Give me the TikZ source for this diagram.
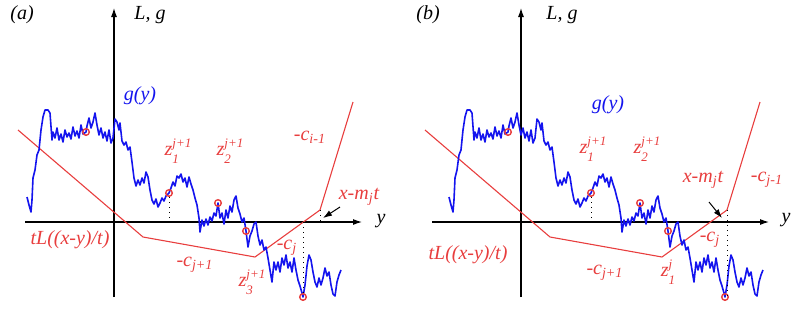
\documentclass[tikz,border=0pt]{standalone}
\usepackage{fontspec}
\setmainfont{Liberation Serif}
\usetikzlibrary{arrows.meta,positioning,calc}
\definecolor{lred}{RGB}{232,62,62}
\definecolor{wblue}{RGB}{20,20,238}
\newcommand\zsup[3]{#1{\fontsize{6.5}{8.2}\selectfont\begin{tabular}{@{}l@{}}#2\\#3\end{tabular}}}

\begin{document}
\begin{tikzpicture}[x=0.5pt,y=-0.5pt,>={Latex[length=4.5pt,width=3pt]},
 ax/.style={draw=black,line width=0.55pt,->},
 lim/.style={draw=lred,line width=0.55pt,line join=round},
 walk/.style={draw=wblue,line width=0.8pt,line join=round},
 dot/.style={circle,draw=lred,line width=0.7pt,inner sep=0pt,minimum size=3.3pt},
 drop/.style={draw=black,line width=0.5pt,dotted},
 tag/.style={font=\itshape\fontsize{10}{12}\selectfont,inner sep=0pt},
 lbl/.style={tag,text=lred}]
 \useasboundingbox (0,0) rectangle (810,313);
 % common parts of both panels
 \foreach \p/\dx/\dw in {a/0/0,b/407/15}{
 \begin{scope}[shift={(\dx,0)}]
  \coordinate (O\p) at (114,222);
  \draw[ax] (114,297) -- (114,8);
  \draw[ax] (25,222) -- (362,222);
  \coordinate (k0\p) at (18,130); \coordinate (k1\p) at (143,237); \coordinate (k2\p) at (255,257);
  \coordinate (k3\p) at (320,210); \coordinate (k4\p) at (353,102);
  \draw[lim] (k0\p) -- (k1\p) -- (k2\p) -- (k3\p) -- (k4\p);
  \begin{scope}[shift={(\dw,0)}]
   \draw[walk] plot coordinates {(27,197) (29,205) (31,212) (32,200) (33,178) (35,170) (37,155) (39,150) (41,130) (43,117) (45,110) (48,110) (50,113) (52,140) (53,132) (55,138) (57,128) (59,140) (61,134) (63,142) (65,130) (67,137) (69,133) (71,139) (73,127) (75,136) (77,131) (79,138) (81,125) (83,134) (86,132) (87,126) (89,118) (91,128) (93,122) (95,113) (97,125) (99,135) (101,128) (103,138) (105,132) (107,141) (109,130) (111,143) (113,138) (115,119) (117,122) (119,130) (120,123) (122,141) (124,145) (126,142) (128,150) (130,147) (132,162) (134,178) (136,186) (138,180) (140,185) (142,178) (144,183) (146,172) (148,177) (150,190) (152,200) (154,204) (156,199) (158,207) (160,203) (162,198) (164,201) (166,196) (169,193) (171,188) (173,182) (175,186) (177,176) (179,178) (181,174) (183,182) (185,178) (187,187) (189,177) (191,184) (193,190) (195,198) (197,205) (199,218) (200,232) (202,220) (204,226) (206,219) (208,225) (210,217) (212,221) (214,213) (216,216) (218,203) (220,218) (222,213) (224,224) (226,210) (228,218) (230,206) (232,212) (234,200) (236,196) (238,208) (240,214) (242,222) (244,218) (246,231) (248,247) (250,236) (252,231) (254,224) (256,222) (258,236) (260,245) (262,240) (264,250) (266,247) (268,258) (270,270) (272,282) (274,262) (276,270) (278,262) (280,272) (282,258) (284,265) (286,255) (288,268) (290,262) (292,272) (294,258) (296,270) (298,280) (300,286) (302,293) (303,297) (305,285) (307,266) (309,255) (311,260) (313,272) (315,282) (317,287) (319,278) (321,285) (323,278) (325,268) (327,276) (329,272) (331,285) (333,294) (335,296) (337,282) (339,275) (341,270)};
   \foreach \n/\xx/\yy in {1/86/132,2/169/193,3/218/203,4/246/231,5/303/297}
    \node[dot] (c\n\p) at (\xx,\yy) {};
  \end{scope}
 \end{scope}}
 % panel (a)
 \node[tag] (ta) at (22,15) {(a)};
 \node[tag] (La) at (150,15) {L, g};
 \node[tag] (ya) at (381,221) {y};
 \node[tag,text=wblue] (ga) at (140,96) {g(y)};
 \node[lbl] (z1a) at (178,152) {\zsup{z}{j+1}{1}};
 \node[lbl] (z2a) at (230,152) {\zsup{z}{j+1}{2}};
 \node[lbl] (z3a) at (252,283) {\zsup{z}{j+1}{3}};
 \node[lbl] (cia) at (310,137) {-c\textsubscript{i-1}};
 \node[lbl] (cja) at (287,248) {-c\textsubscript{j}};
 \node[lbl] (cpa) at (195,265) {-c\textsubscript{j+1}};
 \node[lbl] (La) at (70,240) {tL((x-y)/t)};
 \node[lbl] (xma) at (359,197) {x-m\textsubscript{j}t};
 \coordinate (pa) at (323,218);
 \draw[->,line width=0.5pt] (340,207) -- (pa);
 \draw[drop] (c2a) -- (c2a |- Oa);
 \draw[drop] (c5a |- Oa) -- (c5a);
 \draw[drop] (k3a) -- (k3a |- Oa);
 % panel (b)
 \node[tag] (tb) at (428,15) {(b)};
 \node[tag] (Lb) at (562,15) {L, g};
 \node[tag] (yb) at (786,220) {y};
 \node[tag,text=wblue] (gb) at (608,105) {g(y)};
 \node[lbl] (z1b) at (593,150) {\zsup{z}{j+1}{1}};
 \node[lbl] (z2b) at (647,150) {\zsup{z}{j+1}{2}};
 \node[lbl] (zjb) at (668,273) {\zsup{z}{j}{1}};
 \node[lbl] (cib) at (767,180) {-c\textsubscript{j-1}};
 \node[lbl] (cjb) at (710,240) {-c\textsubscript{j}};
 \node[lbl] (cpb) at (605,273) {-c\textsubscript{j+1}};
 \node[lbl] (Lb) at (468,255) {tL((x-y)/t)};
 \node[lbl] (xmb) at (703,180) {x-m\textsubscript{j}t};
 \coordinate (pb) at (722,218);
 \draw[->,line width=0.5pt] (709,202) -- (pb);
 \draw[drop] (c2b) -- (c2b |- Ob);
 \draw[drop] (k3b) -- (k3b |- c5b);
\end{tikzpicture}
\end{document}
